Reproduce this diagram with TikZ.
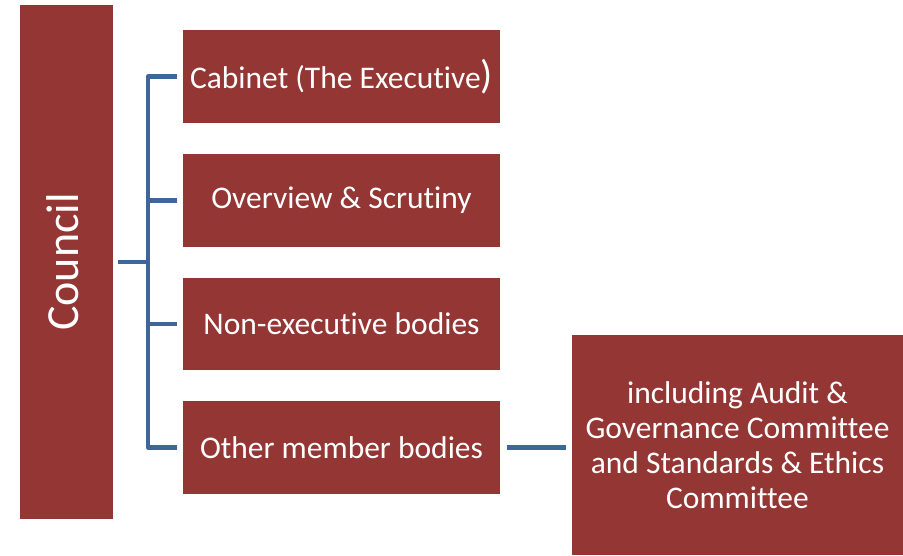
\documentclass[tikz,border=0pt]{standalone}
\usepackage{fontspec}
\setmainfont{Carlito}[RawFeature=-liga]
\definecolor{boxred}{HTML}{943634}
\definecolor{linkblue}{HTML}{3F6698}
\begin{document}
\begin{tikzpicture}[x=1pt,y=-1pt,
  redbox/.style={fill=boxred,draw=none,text=white,inner sep=0pt,font=\fontsize{31.5}{35}\selectfont},
  link/.style={draw=linkblue,line width=4.5pt,line join=round}]
\useasboundingbox (0,0) rectangle (903,555);
\node[redbox,minimum width=93pt,minimum height=514pt] (council) at (66.5,262) {};
\node[text=white,rotate=90,font=\fontsize{46}{46}\selectfont] (ctext) at (63,262) {Council};
\node[redbox,minimum width=317pt,minimum height=93pt] (cab) at (341.5,76.5) {Cabinet (The Executive{\fontsize{40}{40}\selectfont )}};
\node[redbox,minimum width=317pt,minimum height=93pt] (ovs) at (341.5,200.5) {Overview \& Scrutiny};
\node[redbox,minimum width=317pt,minimum height=92pt] (nex) at (341.5,324) {Non-executive bodies};
\node[redbox,minimum width=317pt,minimum height=93pt] (oth) at (341.5,447.5) {Other member bodies};
\node[redbox,minimum width=331pt,minimum height=220pt,align=center] (inc) at (737.5,445) {including Audit \&\\Governance Committee\\and Standards \& Ethics\\Committee};
\foreach \b in {cab,ovs,nex,oth}
  \draw[link,shorten <=5pt,shorten >=6pt] (council.east) -- ++(35,0) |- (\b.west);
\draw[link,shorten <=7pt,shorten >=6pt] (oth.east) -- (oth.east -| inc.west);
\end{tikzpicture}
\end{document}
